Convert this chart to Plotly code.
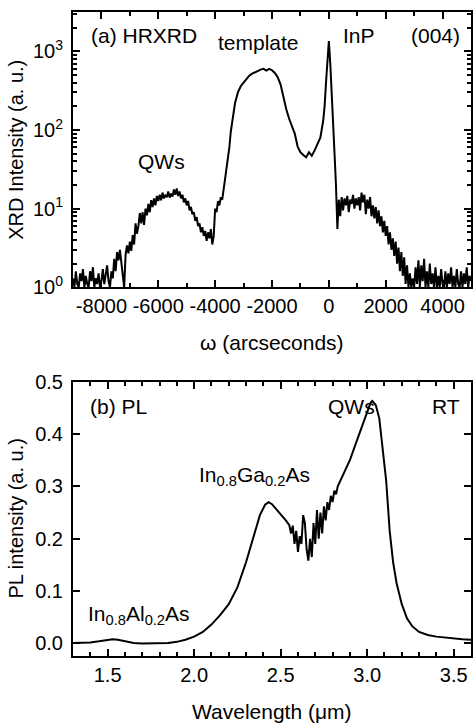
import plotly.graph_objects as go
from plotly.subplots import make_subplots

# ---- Panel (a): HRXRD  (omega in arcsec, intensity in a.u.) ----
xrd_data = [
    (-9000, 1.3), (-8950, 1.0), (-8900, 1.6), (-8850, 1.1), (-8800, 1.0), (-8750, 1.5), (-8700, 1.2), (-8650, 1.7),
    (-8600, 1.0), (-8550, 1.4), (-8500, 1.1), (-8450, 1.0), (-8400, 1.6), (-8350, 1.2), (-8300, 1.8), (-8250, 1.0),
    (-8200, 1.3), (-8150, 1.1), (-8100, 1.5), (-8050, 1.0), (-8000, 1.2), (-7950, 1.7), (-7900, 1.1), (-7850, 1.4),
    (-7800, 1.9), (-7750, 1.2), (-7700, 1.0), (-7650, 1.6), (-7600, 1.3), (-7550, 2.3), (-7500, 1.6), (-7450, 2.8),
    (-7400, 2.2), (-7350, 3.0), (-7300, 2.0), (-7250, 1.4), (-7200, 1.0), (-7150, 2.6), (-7100, 3.4), (-7050, 2.7),
    (-7000, 3.8), (-6950, 2.9), (-6900, 4.6), (-6850, 3.5), (-6800, 6.5), (-6750, 4.8), (-6700, 6.0), (-6650, 8.8),
    (-6600, 6.5), (-6550, 9.0), (-6500, 6.2), (-6450, 10.0), (-6400, 8.2), (-6350, 11.5), (-6300, 9.0), (-6250, 12.8),
    (-6200, 10.5), (-6150, 13.5), (-6100, 11.0), (-6050, 14.5), (-6000, 12.5), (-5950, 15.0), (-5900, 12.8), (-5850, 16.0),
    (-5800, 13.5), (-5750, 15.0), (-5700, 14.0), (-5650, 16.5), (-5600, 13.8), (-5550, 15.5), (-5500, 14.2), (-5450, 17.5),
    (-5400, 15.0), (-5350, 18.0), (-5300, 14.5), (-5250, 16.5), (-5200, 13.5), (-5150, 15.0), (-5100, 12.0), (-5050, 13.5),
    (-5000, 11.0), (-4950, 12.5), (-4900, 9.5), (-4850, 10.5), (-4800, 8.5), (-4750, 9.0), (-4700, 7.0), (-4650, 7.8),
    (-4600, 6.0), (-4550, 6.5), (-4500, 5.0), (-4450, 5.8), (-4400, 4.5), (-4350, 5.2), (-4300, 3.9), (-4250, 5.0),
    (-4200, 4.2), (-4150, 5.5), (-4100, 3.5), (-4050, 4.5), (-4000, 10.0), (-3950, 9.0), (-3900, 12.5), (-3850, 11.0),
    (-3800, 14.0), (-3750, 13.0), (-3700, 18.0), (-3650, 22.0), (-3600, 30.0), (-3550, 42.0), (-3500, 60.0), (-3450, 95.0),
    (-3400, 130), (-3300, 220), (-3200, 300), (-3100, 360), (-3000, 400), (-2900, 450), (-2800, 490), (-2700, 520),
    (-2600, 545), (-2500, 570), (-2400, 585), (-2300, 600), (-2200, 570), (-2100, 600), (-2000, 575), (-1900, 530),
    (-1800, 470), (-1700, 380), (-1600, 260), (-1500, 185), (-1400, 140), (-1300, 110), (-1200, 90), (-1100, 62),
    (-1000, 52), (-900, 48), (-800, 45), (-700, 52), (-600, 47), (-500, 55), (-400, 65), (-300, 80),
    (-200, 130), (-150, 200), (-100, 400), (-50, 800), (0, 1350), (50, 700), (100, 250), (150, 110),
    (200, 50), (250, 20), (300, 5.5), (350, 13), (400, 8), (450, 14), (500, 9.5), (550, 13.5),
    (600, 11), (650, 14.5), (700, 9), (750, 13), (800, 11.5), (850, 15), (900, 10), (950, 13.5),
    (1000, 11), (1050, 14), (1100, 9.5), (1150, 16), (1200, 12), (1250, 15), (1300, 8.5), (1350, 13),
    (1400, 10), (1450, 14), (1500, 8), (1550, 11), (1600, 7.5), (1650, 10.5), (1700, 6.5), (1750, 9.5),
    (1800, 6), (1850, 8), (1900, 5), (1950, 7), (2000, 4.5), (2050, 6), (2100, 3.5), (2150, 5),
    (2200, 3), (2250, 4.2), (2300, 2.5), (2350, 3.8), (2400, 2.0), (2450, 3.2), (2500, 1.6), (2550, 2.8),
    (2600, 1.4), (2650, 2.4), (2700, 1.1), (2750, 1.9), (2800, 1.0), (2850, 1.5), (2900, 1.0), (2950, 1.3),
    (3000, 1.0), (3050, 1.8), (3100, 1.1), (3150, 2.2), (3200, 1.0), (3250, 1.9), (3300, 1.2), (3350, 2.3),
    (3400, 1.0), (3450, 1.6), (3500, 1.0), (3550, 2.0), (3600, 1.1), (3650, 1.5), (3700, 1.0), (3750, 1.8),
    (3800, 1.0), (3850, 1.4), (3900, 1.0), (3950, 1.7), (4000, 1.1), (4050, 1.0), (4100, 1.6), (4150, 1.0),
    (4200, 1.5), (4250, 1.1), (4300, 1.8), (4350, 1.0), (4400, 1.4), (4450, 1.0), (4500, 1.7), (4550, 1.1),
    (4600, 1.0), (4650, 1.6), (4700, 1.0), (4750, 1.5), (4800, 1.1), (4850, 1.8), (4900, 1.0), (4950, 1.4),
    (5000, 1.2),
]
omega = [p[0] for p in xrd_data]
xrd = [p[1] for p in xrd_data]

xrd_x_ticks = [-8000, -6000, -4000, -2000, 0, 2000, 4000]
xrd_x_ticktext = ["-8000", "-6000", "-4000", "-2000", "0", "2000", "4000"]
xrd_y_tickvals = [1, 10, 100, 1000]
xrd_y_ticktext = ["10<sup>0</sup>", "10<sup>1</sup>", "10<sup>2</sup>", "10<sup>3</sup>"]

# ---- Panel (b): PL ----
wl = [1.30, 1.35, 1.40, 1.45, 1.50, 1.53, 1.56, 1.60, 1.65, 1.70,
      1.75, 1.80, 1.85, 1.90, 1.95, 2.00, 2.05, 2.10, 2.15, 2.20,
      2.25, 2.30, 2.34, 2.38, 2.41, 2.43, 2.45, 2.48, 2.51, 2.53,
      2.55, 2.56, 2.57, 2.58, 2.59, 2.60, 2.61, 2.62, 2.63, 2.64,
      2.65, 2.66, 2.67, 2.68, 2.69, 2.70, 2.71, 2.72, 2.73, 2.74,
      2.75, 2.76, 2.77, 2.78, 2.79, 2.80, 2.81, 2.82, 2.83, 2.85,
      2.88, 2.90, 2.93, 2.96, 2.98, 3.00, 3.02, 3.03, 3.05, 3.07,
      3.09, 3.11, 3.13, 3.15, 3.17, 3.20, 3.23, 3.26, 3.30, 3.35,
      3.40, 3.45, 3.50, 3.55, 3.60]
pl = [0.001, 0.001, 0.002, 0.004, 0.007, 0.008, 0.007, 0.004, 0.001, 0.0,
      0.0, 0.0, 0.001, 0.003, 0.007, 0.013, 0.022, 0.036, 0.054, 0.075,
      0.107, 0.155, 0.200, 0.245, 0.265, 0.270, 0.266, 0.255, 0.243, 0.235,
      0.226, 0.210, 0.225, 0.190, 0.215, 0.175, 0.205, 0.190, 0.245, 0.230,
      0.180, 0.158, 0.200, 0.165, 0.230, 0.190, 0.255, 0.200, 0.250, 0.210,
      0.262, 0.235, 0.270, 0.255, 0.282, 0.270, 0.292, 0.285, 0.300, 0.315,
      0.335, 0.350, 0.378, 0.405, 0.425, 0.445, 0.460, 0.463, 0.455, 0.430,
      0.375, 0.310, 0.215, 0.155, 0.115, 0.075, 0.048, 0.033, 0.022, 0.016,
      0.013, 0.011, 0.009, 0.008, 0.007]

pl_x_ticks = [1.5, 2.0, 2.5, 3.0, 3.5]
pl_x_ticktext = ["1.5", "2.0", "2.5", "3.0", "3.5"]
pl_y_ticks = [0.0, 0.1, 0.2, 0.3, 0.4, 0.5]
pl_y_ticktext = ["0.0", "0.1", "0.2", "0.3", "0.4", "0.5"]

FONT = "Arial, Liberation Sans, sans-serif"
W, H = 474, 725
ML, MR, MT, MB = 73, 2, 1, 69
plot_h = H - MT - MB

def py(pix):
    return (H - MB - pix) / plot_h

fig = make_subplots(rows=2, cols=1)
fig.add_trace(go.Scatter(x=omega, y=xrd, mode="lines",
                         line=dict(color="black", width=2), showlegend=False), row=1, col=1)
fig.add_trace(go.Scatter(x=wl, y=pl, mode="lines",
                         line=dict(color="black", width=2), showlegend=False), row=2, col=1)

minor_log = [m * 10 ** k for k in range(0, 4) for m in range(2, 10)]

axis_common = dict(showgrid=False, zeroline=False, showline=True, linecolor="black",
                   linewidth=2, mirror="allticks", ticks="inside", tickcolor="black",
                   tickwidth=1.5, tickfont=dict(family=FONT, size=20, color="black"))

fig.update_layout(
    xaxis=dict(axis_common, range=[-9000, 5000], domain=[0, 1], anchor="y",
               tickvals=xrd_x_ticks, ticktext=xrd_x_ticktext, ticklen=7,
               minor=dict(ticks="inside", ticklen=4, dtick=1000, tick0=0, tickcolor="black", tickwidth=1.5)),
    yaxis=dict(axis_common, type="log", range=[0, 3.5], domain=[py(281), 1], anchor="x",
               tickvals=xrd_y_tickvals, ticktext=xrd_y_ticktext, ticklen=7, ticklabelstandoff=4,
               minor=dict(ticks="inside", ticklen=4, tickvals=minor_log, tickcolor="black", tickwidth=1.5)),
    xaxis2=dict(axis_common, range=[1.3, 3.6], domain=[0, 1], anchor="y2",
                tickvals=pl_x_ticks, ticktext=pl_x_ticktext, ticklen=7,
                minor=dict(ticks="inside", ticklen=4, dtick=0.1, tick0=0, tickcolor="black", tickwidth=1.5)),
    yaxis2=dict(axis_common, range=[-0.024, 0.5], domain=[0, py(377)], anchor="x2",
                tickvals=pl_y_ticks, ticktext=pl_y_ticktext, ticklen=7, ticklabelstandoff=4),
    width=W, height=H, margin=dict(l=ML, r=MR, t=MT, b=MB),
    plot_bgcolor="white", paper_bgcolor="white",
    font=dict(family=FONT, size=18, color="black"),
)

def ann(text, x, y, xanchor="center", size=21):
    fig.add_annotation(text=text, xref="paper", yref="paper",
                       x=(x - ML) / (W - ML - MR), y=py(y), xanchor=xanchor, yanchor="middle",
                       showarrow=False, font=dict(family=FONT, size=size, color="black"))

ann("(a) HRXRD", 89, 25, "left")
ann("template", 259, 32)
ann("InP", 360, 25)
ann("(004)", 463, 25, "right")
ann("QWs", 162, 153)
ann("(b) PL", 88, 402, "left")
ann("QWs", 352, 402)
ann("RT", 463, 402, "right")
ann("In<sub>0.8</sub>Ga<sub>0.2</sub>As", 255, 473)
ann("In<sub>0.8</sub>Al<sub>0.2</sub>As", 86, 614, "left")

# axis titles
ann("ω (arcseconds)", 272, 337, size=21)
ann("Wavelength (μm)", 272, 712, size=21)
fig.add_annotation(text="XRD Intensity (a. u.)", xref="paper", yref="paper",
                   x=(16 - ML) / (W - ML - MR), y=py(141), textangle=-90,
                   xanchor="center", yanchor="middle", showarrow=False,
                   font=dict(family=FONT, size=20, color="black"))
fig.add_annotation(text="PL intensity (a. u.)", xref="paper", yref="paper",
                   x=(16 - ML) / (W - ML - MR), y=py(516), textangle=-90,
                   xanchor="center", yanchor="middle", showarrow=False,
                   font=dict(family=FONT, size=20, color="black"))

fig.write_html("out.html", config={"displayModeBar": False},
               post_script="document.body.style.margin='0';document.body.style.overflow='hidden';")
